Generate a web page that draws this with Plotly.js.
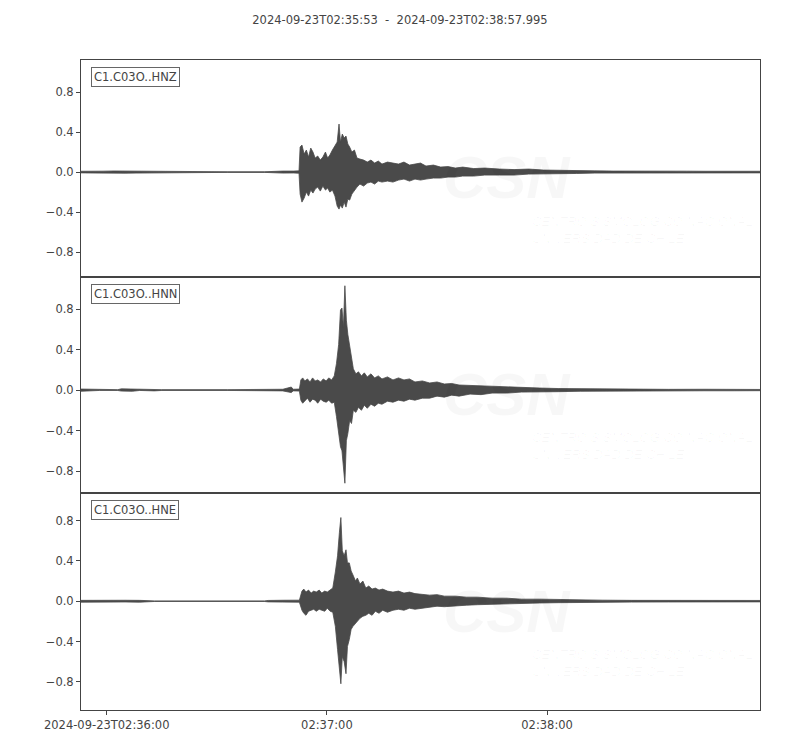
<!DOCTYPE html>
<html>
<head>
<meta charset="utf-8">
<script src="https://cdn.plot.ly/plotly-3.0.1.min.js"></script>
<style>body{margin:0;background:#fff}</style>
</head>
<body>
<div id="seis" style="width:800px;height:750px"></div>
<script>
// seconds after 2024-09-23T02:35:53, envelope max / min of each normalised trace
var tHNZ = [0,3,6,9,12,15,18,19.5,30,40,50,52,55,58,59.4,59.7,60.2,60.8,61.4,62.0,62.6,63.2,63.8,64.5,65.2,65.9,66.6,67.2,67.8,68.5,69.2,69.8,70.3,70.7,71.2,71.7,72.2,72.7,73.2,73.8,74.5,75.2,76.0,77.0,78.0,79.0,80.0,81.0,82.0,83.5,85.0,86.5,88.0,89.5,91.0,92.5,94.0,96.0,98.0,100,102,104,107,110,114,118,122,126,130,135,140,145,150,155,160,165,170,175,180,185];
var upHNZ = [0.008,0.012,0.009,0.011,0.010,0.012,0.008,0.003,0.003,0.003,0.003,0.008,0.010,0.010,0.012,0.25,0.27,0.18,0.22,0.15,0.24,0.20,0.14,0.16,0.12,0.15,0.20,0.14,0.17,0.22,0.26,0.30,0.48,0.30,0.38,0.34,0.36,0.28,0.25,0.20,0.22,0.14,0.13,0.12,0.10,0.12,0.09,0.11,0.08,0.10,0.09,0.08,0.10,0.07,0.08,0.09,0.06,0.07,0.05,0.055,0.04,0.05,0.035,0.04,0.03,0.025,0.03,0.02,0.018,0.012,0.012,0.010,0.008,0.010,0.008,0.009,0.008,0.010,0.009,0.008];
var loHNZ = [-0.008,-0.010,-0.012,-0.009,-0.011,-0.010,-0.009,-0.003,-0.003,-0.003,-0.003,-0.008,-0.010,-0.009,-0.012,-0.22,-0.30,-0.26,-0.20,-0.24,-0.18,-0.21,-0.17,-0.15,-0.19,-0.14,-0.18,-0.16,-0.20,-0.18,-0.24,-0.34,-0.37,-0.33,-0.36,-0.30,-0.35,-0.27,-0.28,-0.22,-0.18,-0.15,-0.12,-0.14,-0.11,-0.10,-0.12,-0.09,-0.10,-0.09,-0.10,-0.08,-0.07,-0.09,-0.07,-0.08,-0.07,-0.06,-0.06,-0.05,-0.05,-0.04,-0.04,-0.03,-0.03,-0.03,-0.02,-0.02,-0.018,-0.014,-0.010,-0.010,-0.008,-0.009,-0.008,-0.010,-0.008,-0.010,-0.008,-0.008];

var tHNN = [0,2,4,5,10,11,14,16,20,22,40,52,55,57.3,57.8,59.5,59.9,60.4,61.0,61.7,62.4,63.1,63.8,64.5,65.3,66.0,66.8,67.5,68.3,69.0,69.6,70.2,70.7,71.1,71.5,71.9,72.3,72.7,73.2,73.7,74.2,74.9,75.6,76.4,77.2,78.0,79.0,80.0,81.0,82.0,83.5,85.0,86.5,88.0,89.5,91.0,93.0,95.0,97.0,99.0,101,103,106,109,112,116,120,125,130,136,142,150,160,170,178,185];
var upHNN = [0.010,0.008,0.010,0.004,0.004,0.012,0.010,0.004,0.006,0.004,0.004,0.005,0.008,0.03,0.008,0.010,0.10,0.12,0.09,0.11,0.08,0.12,0.09,0.10,0.08,0.11,0.09,0.12,0.10,0.14,0.26,0.45,0.79,0.81,0.62,1.03,0.69,0.55,0.43,0.30,0.21,0.16,0.18,0.14,0.17,0.13,0.16,0.12,0.14,0.11,0.13,0.10,0.12,0.10,0.11,0.08,0.09,0.07,0.08,0.06,0.065,0.05,0.045,0.04,0.035,0.03,0.025,0.02,0.015,0.012,0.010,0.008,0.007,0.008,0.007,0.006];
var loHNN = [-0.012,-0.008,-0.010,-0.004,-0.004,-0.010,-0.012,-0.004,-0.008,-0.004,-0.004,-0.005,-0.008,-0.025,-0.008,-0.010,-0.10,-0.13,-0.11,-0.08,-0.12,-0.09,-0.10,-0.13,-0.09,-0.11,-0.12,-0.10,-0.13,-0.12,-0.26,-0.40,-0.56,-0.60,-0.78,-0.92,-0.50,-0.43,-0.30,-0.33,-0.20,-0.22,-0.17,-0.20,-0.15,-0.18,-0.14,-0.16,-0.13,-0.14,-0.11,-0.12,-0.10,-0.11,-0.09,-0.10,-0.08,-0.08,-0.06,-0.07,-0.05,-0.06,-0.04,-0.045,-0.03,-0.03,-0.02,-0.02,-0.016,-0.012,-0.010,-0.008,-0.008,-0.007,-0.007,-0.006];

var tHNE = [0,4,8,12,16,19,20,50,51,55,59.5,60.2,60.7,61.3,62.0,62.7,63.4,64.1,64.9,65.6,66.4,67.1,67.9,68.6,69.3,69.9,70.4,70.8,71.2,71.7,72.2,72.6,73.1,73.6,74.1,74.8,75.3,76.0,76.8,77.6,78.4,79.3,80.2,81.2,82.2,83.5,85.0,86.5,88.0,89.5,91.0,93.0,95.0,97.0,99.0,102,105,108,112,116,120,125,130,136,142,150,160,170,178,185];
var upHNE = [0.008,0.010,0.007,0.009,0.008,0.009,0.003,0.003,0.007,0.009,0.010,0.10,0.12,0.09,0.11,0.08,0.10,0.09,0.11,0.08,0.10,0.09,0.11,0.13,0.29,0.45,0.68,0.83,0.50,0.45,0.51,0.38,0.38,0.30,0.26,0.20,0.23,0.17,0.20,0.13,0.15,0.12,0.13,0.11,0.12,0.10,0.09,0.10,0.08,0.09,0.075,0.07,0.06,0.065,0.05,0.05,0.04,0.04,0.03,0.03,0.02,0.02,0.016,0.012,0.010,0.008,0.009,0.008,0.008,0.007];
var loHNE = [-0.010,-0.008,-0.009,-0.008,-0.010,-0.008,-0.003,-0.003,-0.007,-0.009,-0.010,-0.09,-0.12,-0.14,-0.10,-0.09,-0.08,-0.10,-0.08,-0.09,-0.10,-0.07,-0.10,-0.11,-0.25,-0.48,-0.72,-0.82,-0.55,-0.60,-0.72,-0.45,-0.38,-0.28,-0.25,-0.22,-0.20,-0.17,-0.15,-0.14,-0.12,-0.14,-0.10,-0.12,-0.09,-0.11,-0.09,-0.08,-0.09,-0.07,-0.08,-0.07,-0.065,-0.05,-0.055,-0.045,-0.04,-0.035,-0.03,-0.025,-0.025,-0.018,-0.015,-0.012,-0.010,-0.009,-0.008,-0.008,-0.009,-0.007];

var channels = ['C1.C03O..HNZ', 'C1.C03O..HNN', 'C1.C03O..HNE'];
var yRanges = [[-1.045, 1.12], [-1.02, 1.12], [-1.08, 1.07]];
var tickTimes = ['2024-09-23 02:36:00', '2024-09-23 02:37:00', '2024-09-23 02:38:00'];
var tickLabels = ['2024-09-23T02:36:00', '02:37:00', '02:38:00'];
var startSec = 2*3600 + 35*60 + 53;

function toDate(s) {
  var tot = startSec + s;
  var h = Math.floor(tot / 3600), m = Math.floor((tot % 3600) / 60), sec = tot - h*3600 - m*60;
  var ss = sec.toFixed(3);
  if (sec < 10) ss = '0' + ss;
  return '2024-09-23 ' + String(h).padStart(2,'0') + ':' + String(m).padStart(2,'0') + ':' + ss;
}

var ink = '#4a4a4a';
var sets = [[tHNZ, upHNZ, loHNZ], [tHNN, upHNN, loHNN], [tHNE, upHNE, loHNE]];
var data = [];
sets.forEach(function (s, i) {
  var sfx = i === 0 ? '' : String(i + 1);
  var xs = s[0].map(toDate);
  data.push({x: xs, y: s[1], type: 'scatter', mode: 'lines', xaxis: 'x' + sfx, yaxis: 'y' + sfx,
    line: {color: ink, width: 0.8}, hoverinfo: 'skip'});
  data.push({x: xs, y: s[2], type: 'scatter', mode: 'lines', xaxis: 'x' + sfx, yaxis: 'y' + sfx,
    line: {color: ink, width: 0.8}, fill: 'tonexty', fillcolor: ink, hoverinfo: 'skip'});
});

var tickFont = {family: 'DejaVu Sans', size: 11.5, color: '#444'};
var mark = 'rgba(0,0,0,0.03)';
var layout = {
  width: 800, height: 750,
  margin: {l: 81, r: 40, t: 60, b: 40},
  showlegend: false,
  paper_bgcolor: '#fff', plot_bgcolor: '#fff',
  title: {text: '2024-09-23T02:35:53\u00a0\u00a0-\u00a0\u00a02024-09-23T02:38:57.995',
    xref: 'container', x: 0.5, xanchor: 'center', y: 0.973, yanchor: 'middle',
    font: {family: 'DejaVu Sans', size: 11.5, color: '#444'}},
  annotations: []
};

var domains = [[0.6667, 1], [0.3333, 0.6667], [0, 0.3333]];
for (var i = 0; i < 3; i++) {
  var sfx = i === 0 ? '' : String(i + 1);
  layout['xaxis' + sfx] = {
    domain: [0, 1], anchor: 'y' + sfx, type: 'date',
    range: [toDate(0), toDate(185)],
    showline: true, mirror: true, linecolor: '#444', linewidth: 1,
    showgrid: false, zeroline: false,
    ticks: i === 2 ? 'outside' : '', ticklen: 4, tickcolor: '#444',
    showticklabels: i === 2,
    tickmode: 'array', tickvals: tickTimes, ticktext: tickLabels,
    tickfont: tickFont
  };
  layout['yaxis' + sfx] = {
    domain: domains[i], anchor: 'x' + sfx, range: yRanges[i],
    showline: true, mirror: true, linecolor: '#444', linewidth: 1,
    showgrid: false, zeroline: false,
    ticks: 'outside', ticklen: 4, tickcolor: '#444',
    tickmode: 'array', tickvals: [-0.8, -0.4, 0, 0.4, 0.8],
    ticktext: ['\u22120.8', '\u22120.4', '0.0', '0.4', '0.8'],
    tickfont: tickFont
  };
  var xr = 'x' + sfx + ' domain', yr = 'y' + sfx + ' domain';
  // faint CSN watermark
  layout.annotations.push({
    text: '<b><i>CSN</i></b>', xref: xr, yref: yr, x: 0.627, y: 0.62, yanchor: 'top',
    showarrow: false, font: {family: 'Liberation Sans', size: 60, color: mark}
  });
  layout.annotations.push({
    text: '<i>CENTRO SISMOLÓGICO NACIONAL<br>UNIVERSIDAD DE CHILE</i>', xref: xr, yref: yr,
    x: 0.661, y: 0.30, xanchor: 'left', yanchor: 'top', align: 'left',
    showarrow: false, font: {family: 'Liberation Sans', size: 13, color: mark}
  });
  layout.annotations.push({
    text: channels[i], xref: xr, yref: yr, x: 0.0147, y: 0.968,
    xanchor: 'left', yanchor: 'top', showarrow: false,
    bgcolor: '#fff', bordercolor: '#666', borderwidth: 1, borderpad: 2,
    font: {family: 'DejaVu Sans', size: 11.5, color: '#444'}
  });
}

Plotly.newPlot('seis', data, layout, {displayModeBar: false, staticPlot: true});
</script>
</body>
</html>
